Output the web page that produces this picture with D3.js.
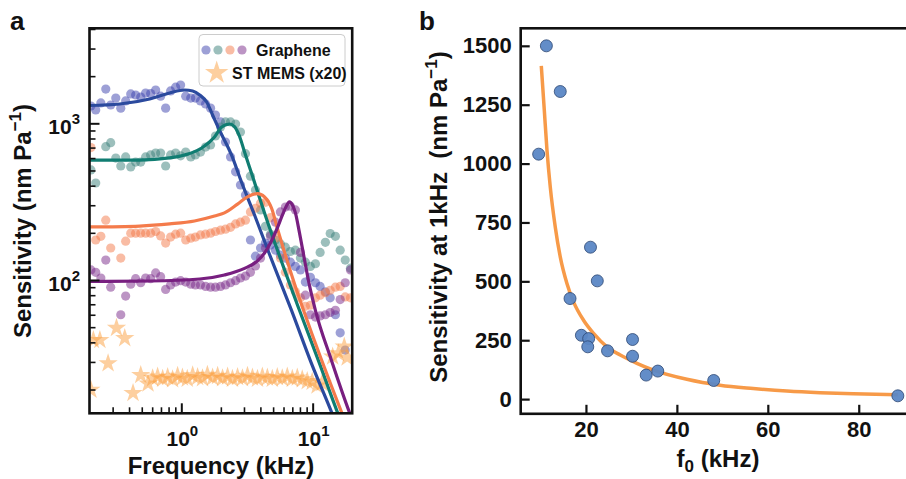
<!DOCTYPE html>
<html>
<head>
<meta charset="utf-8">
<script src="https://cdn.jsdelivr.net/npm/d3@7"></script>
<style>
  body { margin: 0; background: #fff; }
  text { font-family: "Liberation Sans", Arial, sans-serif; font-weight: bold; }
</style>
</head>
<body>
<svg id="chart" width="906" height="479"></svg>
<script>
// ---- panel a data: frequency (kHz) and sensitivity (nm/Pa) ----
const freqs = [0.205, 0.223, 0.244, 0.266, 0.290, 0.317, 0.346, 0.377, 0.412, 0.449, 0.491, 0.535,
  0.584, 0.638, 0.696, 0.760, 0.829, 0.905, 0.988, 1.08, 1.18, 1.28, 1.40, 1.53, 1.67, 1.82, 1.99,
  2.17, 2.37, 2.59, 2.82, 3.08, 3.36, 3.67, 4.01, 4.37, 4.77, 5.21, 5.68, 6.20, 6.77, 7.39, 8.07,
  8.80, 9.61, 10.5, 11.4, 12.5, 13.6, 14.9, 16.2, 17.7, 19.4]

const blueS = [1290, 1216, 1350, 1655, 1309, 1450, 1250, 1390, 1540, 1516, 1470, 1560, 1550, 1631,
  1490, 1250, 1610, 1700, 1756, 1490, 1450, 1450, 1390, 1330, 1250, 1130, 1020, 760, 610, 490, 404,
  349, 180, 142, 160, 172, 167, 155, 144, 138, 130, 122, 116, 97, 104, 96, 91, 84, 77, 60, 46, 35.7, null]
const tealS = [504, 416, null, 709, 752, 600, 534, 610, 527, 566, 566, 610, 628, 646, 646, 534, 628,
  646, 620, 655, 610, 628, 655, 705, 727, 830, 947, 1020, 1020, 990, 880, 640, 460, 375, 280, 220,
  196, 180, 170, 162, 152, 155, 138, 130, 122, 127, 150, 174, 198, 190, 155, 134, 119]
const orangeS = [700, 180, 190, 241, 160, null, 138, 177, 199, 199, 199, 199, 199, 204, 191, 172, 188,
  196, 199, 180, 185, 188, 194, 196, 199, 204, 208, 211, 217, 228, 234, 241, 272, 287, 309, 313,
  250, 185, 138, 112, 93, 84, 77, 68, 69, 77, 80, 83, 86, 90, 91, 78, 77]
const purpleS = [116, 112, 103, 134, 90, null, 60, 79, 94, 102, 96, 103, 102, 111, 105, 87, 93, 97,
  99, 97, 94, 93, 93, 91, 90, 90, 91, 93, 96, 99, 103, 106, 112, 123, 138, 160, 191, 234, 272, 292,
  296, 280, 150, 80, 60, 58, 59, 60, 62, 64, 75, 96, 116]

const memsF = [0.205, 0.214, 0.240, 0.277, 0.321, 0.371, 0.429, 0.491, 0.558, 0.605, 0.660, 0.721,
  0.787, 0.858, 0.937, 1.02, 1.11, 1.22, 1.33, 1.45, 1.58, 1.73, 1.89, 2.06, 2.25, 2.45, 2.68, 2.92,
  3.19, 3.48, 3.80, 4.14, 4.52, 4.93, 5.38, 5.87, 6.41, 7.00, 7.64, 8.33, 9.09, 9.92, 10.8, 11.8,
  14.2, 15.7, 17.4, 18.3]
const memsS = [19.9, 41.4, 41.4, 29.4, 49.4, 42.5, 19.0, 24.7, 21.8, 23.6, 24.2, 23.4, 24.0, 23.2,
  24.4, 23.8, 23.4, 24.6, 24.0, 23.6, 24.8, 23.8, 24.4, 23.6, 24.2, 23.4, 24.0, 23.6, 24.4, 23.8,
  23.4, 24.2, 23.8, 23.4, 24.0, 23.6, 24.2, 23.4, 23.8, 23.2, 22.6, 22.4, 21.2, 22.0, 32.4, 34.0,
  37.5, 32.0]

// fitted response curves
const blueFitF = [0.2, 0.34, 0.574, 0.815, 1.06, 1.22, 1.38, 1.56, 1.73, 1.95, 2.41, 2.87, 3.61, 4.69, 6.89, 9.77, 13.9, 16]
const blueFitS = [1299, 1328, 1429, 1561, 1631, 1607, 1516, 1367, 1130, 906, 628, 422, 260, 146, 64.3, 29.5, 14.4, 10.7]
const tealFitF = [0.2, 0.482, 0.815, 1.06, 1.43, 1.79, 2.03, 2.33, 2.54, 2.77, 3.03, 3.42, 4.30, 6.04, 7.92, 11.25, 15.4, 17.7]
const tealFitS = [583, 583, 601, 628, 696, 818, 947, 990, 954, 830, 656, 482, 268, 119, 64.3, 29.5, 14.4, 10.7]
const orangeFitF = [0.2, 0.482, 0.815, 1.26, 1.79, 2.13, 2.68, 3.19, 3.80, 4.30, 4.86, 5.40, 6.04, 7.54, 8.51, 16.55, 19.04]
const orangeFitS = [218, 221, 228, 238, 256, 268, 305, 339, 356, 339, 288, 212, 155, 86.3, 64.3, 14.4, 10.7]
const purpleFitF = [0.2, 0.574, 1.38, 2.13, 3.03, 3.80, 4.30, 4.77, 5.30, 5.89, 6.31, 6.65, 7.01, 7.39, 7.92, 8.65, 9.44, 10.48, 13.87, 19.0, 21.5]
const purpleFitS = [97.8, 98.5, 101.5, 107.7, 118.6, 132.3, 148.7, 172.3, 208.5, 260, 297, 315, 301, 268, 202, 136, 93, 64.3, 30.9, 14.4, 11]

// ---- panel b data ----
const f0 = [9.6, 11.3, 14.35, 16.5, 19.0, 20.6, 20.4, 21.0, 22.5, 24.75, 30.25, 30.25, 33.25, 35.8, 48.1, 88.6]
const sens1k = [1040, 1500, 1306, 427, 271, 257, 222, 645, 502, 205, 253, 182, 102, 119, 79, 14]
const fitF0 = [10.18, 10.84, 11.43, 12.15, 13.25, 14.35, 15.82, 17.27, 19.47, 21.67, 24.62, 27.54, 31.21, 34.86, 42.2, 49.5, 56.8, 64.2, 71.5, 78.8, 88.6]
const fitSens = [1415, 1227, 1057, 901, 731, 604, 491, 413, 335, 279, 222, 187, 152, 123, 84, 59, 45, 34, 27, 22.5, 18]

const xMajorA = [1, 10]
const xMinorA = [0.3, 0.4, 0.5, 0.6, 0.7, 0.8, 0.9, 2, 3, 4, 5, 6, 7, 8, 9]
const yMajorA = [100, 1000]
const yMinorA = [20, 30, 40, 50, 60, 70, 80, 90, 200, 300, 400, 500, 600, 700, 800, 900, 2000, 3000, 4000]
const yTicksB = [0, 250, 500, 750, 1000, 1250, 1500]
const xTicksB = [20, 40, 60, 80]

const series = [
  {name: 'blue', values: blueS, fitF: blueFitF, fitS: blueFitS, dot: '#3c42ad', line: '#2b4a9e'},
  {name: 'teal', values: tealS, fitF: tealFitF, fitS: tealFitS, dot: '#3a7f7a', line: '#107d72'},
  {name: 'orange', values: orangeS, fitF: orangeFitF, fitS: orangeFitS, dot: '#f4794a', line: '#f47b4b'},
  {name: 'purple', values: purpleS, fitF: purpleFitF, fitS: purpleFitS, dot: '#7a2a8a', line: '#781f80'}
]
const starColor = '#fca040'

const svg = d3.select('#chart')

// ================= panel a =================
const A = {left: 89.5, right: 352.2, top: 28.3, bottom: 413.3}
const xa = d3.scaleLog().domain([0.2, 20]).range([A.left, A.right])
const ya = d3.scaleLog().domain([14.1, 4040]).range([A.bottom, A.top])

svg.append('clipPath').attr('id', 'clipA')
  .append('rect')
  .attr('x', A.left).attr('y', A.top)
  .attr('width', A.right - A.left).attr('height', A.bottom - A.top)

const plotA = svg.append('g').attr('clip-path', 'url(#clipA)')

series.forEach(s => {
  const pts = freqs.map((f, i) => [f, s.values[i]]).filter(d => d[1] != null)
  plotA.append('g')
    .selectAll('circle')
    .data(pts)
    .join('circle')
    .attr('cx', d => xa(d[0]))
    .attr('cy', d => ya(d[1]))
    .attr('r', 4.6)
    .attr('fill', s.dot)
    .attr('fill-opacity', 0.5)
})

const star = d3.symbol().type(d3.symbolStar).size(115)
plotA.append('g')
  .selectAll('path')
  .data(memsF.map((f, i) => [f, memsS[i]]))
  .join('path')
  .attr('d', star)
  .attr('transform', d => `translate(${xa(d[0])},${ya(d[1])})`)
  .attr('fill', starColor)
  .attr('fill-opacity', 0.5)

const lineA = d3.line()
  .x(d => xa(d[0]))
  .y(d => ya(d[1]))
  .curve(d3.curveMonotoneX)

series.forEach(s => {
  plotA.append('path')
    .datum(s.fitF.map((f, i) => [f, s.fitS[i]]))
    .attr('d', lineA)
    .attr('fill', 'none')
    .attr('stroke', s.line)
    .attr('stroke-width', 3.2)
})

// ticks (inward)
function tickAxis(g, axis, width) {
  g.call(axis)
  g.select('.domain').remove()
  g.selectAll('.tick line').attr('stroke', '#111').attr('stroke-width', width)
  g.selectAll('.tick text').remove()
}

svg.append('g').attr('transform', `translate(0,${A.bottom})`)
  .call(g => tickAxis(g, d3.axisBottom(xa).tickValues(xMajorA).tickSize(-10), 2))
svg.append('g').attr('transform', `translate(0,${A.bottom})`)
  .call(g => tickAxis(g, d3.axisBottom(xa).tickValues(xMinorA).tickSize(-6), 1.6))
svg.append('g').attr('transform', `translate(${A.left},0)`)
  .call(g => tickAxis(g, d3.axisLeft(ya).tickValues(yMajorA).tickSize(-10), 2))
svg.append('g').attr('transform', `translate(${A.left},0)`)
  .call(g => tickAxis(g, d3.axisLeft(ya).tickValues(yMinorA).tickSize(-6), 1.6))

function powerLabel(x, y, exp, anchor) {
  const t = svg.append('text')
    .attr('x', x).attr('y', y)
    .attr('text-anchor', anchor)
    .attr('font-size', 21)
    .attr('fill', '#111')
  t.append('tspan').text('10')
  t.append('tspan').attr('dy', -10).attr('font-size', 15).text(exp)
}

xMajorA.forEach(v => powerLabel(xa(v) + 1, 446, Math.round(Math.log10(v)), 'middle'))
yMajorA.forEach(v => powerLabel(80, ya(v) + 11, Math.round(Math.log10(v)), 'end'))

svg.append('rect')
  .attr('x', A.left).attr('y', A.top)
  .attr('width', A.right - A.left).attr('height', A.bottom - A.top)
  .attr('fill', 'none').attr('stroke', '#111').attr('stroke-width', 2.6)

// legend
const leg = svg.append('g')
leg.append('rect')
  .attr('x', 199).attr('y', 34.5).attr('width', 146).attr('height', 51.5)
  .attr('rx', 4)
  .attr('fill', '#fff').attr('fill-opacity', 0.8)
  .attr('stroke', '#cccccc').attr('stroke-width', 1)
series.forEach((s, i) => {
  leg.append('circle')
    .attr('cx', 206 + i * 12).attr('cy', 50).attr('r', 4.6)
    .attr('fill', s.dot).attr('fill-opacity', 0.5)
})
leg.append('text').attr('x', 256).attr('y', 55.5).attr('font-size', 16).attr('fill', '#111').text('Graphene')
leg.append('path')
  .attr('d', d3.symbol().type(d3.symbolStar).size(170))
  .attr('transform', 'translate(216.7,72.7)')
  .attr('fill', starColor).attr('fill-opacity', 0.5)
leg.append('text').attr('x', 232).attr('y', 78.5).attr('font-size', 16).attr('fill', '#111').text('ST MEMS (x20)')

// labels
svg.append('text').attr('x', 10).attr('y', 30).attr('font-size', 26).attr('fill', '#111').text('a')

const yLabA = svg.append('text')
  .attr('transform', 'translate(31,221) rotate(-90)')
  .attr('text-anchor', 'middle')
  .attr('font-size', 24)
  .attr('fill', '#111')
yLabA.append('tspan').text('Sensitivity (nm Pa')
yLabA.append('tspan').attr('dy', -10).attr('font-size', 17).text('\u22121')
yLabA.append('tspan').attr('dy', 10).text(')')

svg.append('text')
  .attr('x', 221).attr('y', 474)
  .attr('text-anchor', 'middle')
  .attr('font-size', 24)
  .attr('fill', '#111')
  .text('Frequency (kHz)')

// ================= panel b =================
const B = {left: 520.7, right: 915.8, top: 28.3, bottom: 413.8}
const xb = d3.scaleLinear().domain([5.65, 92.55]).range([B.left, B.right])
const yb = d3.scaleLinear().domain([-62.4, 1574.4]).range([B.bottom, B.top])

const lineB = d3.line()
  .x(d => xb(d[0]))
  .y(d => yb(d[1]))
  .curve(d3.curveMonotoneX)

svg.append('path')
  .datum(fitF0.map((f, i) => [f, fitSens[i]]))
  .attr('d', lineB)
  .attr('fill', 'none')
  .attr('stroke', '#f79a48')
  .attr('stroke-width', 3.5)

svg.append('g')
  .selectAll('circle')
  .data(f0.map((f, i) => [f, sens1k[i]]))
  .join('circle')
  .attr('cx', d => xb(d[0]))
  .attr('cy', d => yb(d[1]))
  .attr('r', 6)
  .attr('fill', '#5b87c5')
  .attr('fill-opacity', 0.95)
  .attr('stroke', '#2c4672')
  .attr('stroke-width', 0.8)

function styleAxisB(g) {
  g.select('.domain').remove()
  g.selectAll('.tick line').attr('stroke', '#111').attr('stroke-width', 2.2)
  g.selectAll('.tick text')
    .attr('font-size', 22)
    .attr('font-family', '"Liberation Sans", Arial, sans-serif')
    .attr('font-weight', 'bold')
    .attr('fill', '#111')
}

svg.append('g').attr('transform', `translate(${B.left},0)`)
  .call(d3.axisLeft(yb).tickValues(yTicksB).tickFormat(d3.format('d')).tickSize(-9).tickPadding(9))
  .call(styleAxisB)
svg.append('g').attr('transform', `translate(0,${B.bottom})`)
  .call(d3.axisBottom(xb).tickValues(xTicksB).tickFormat(d3.format('d')).tickSize(-9).tickPadding(8))
  .call(styleAxisB)

svg.append('rect')
  .attr('x', B.left).attr('y', B.top)
  .attr('width', B.right - B.left).attr('height', B.bottom - B.top)
  .attr('fill', 'none').attr('stroke', '#111').attr('stroke-width', 2.6)

svg.append('text').attr('x', 419).attr('y', 30).attr('font-size', 26).attr('fill', '#111').text('b')

const yLabB = svg.append('text')
  .attr('transform', 'translate(447,217) rotate(-90)')
  .attr('text-anchor', 'middle')
  .attr('font-size', 24)
  .attr('fill', '#111')
  .style('white-space', 'pre')
yLabB.append('tspan').text('Sensitivity at 1kHz  (nm Pa')
yLabB.append('tspan').attr('dy', -10).attr('font-size', 17).text('\u22121')
yLabB.append('tspan').attr('dy', 10).text(')')

const xLabB = svg.append('text')
  .attr('x', 718).attr('y', 467)
  .attr('text-anchor', 'middle')
  .attr('font-size', 24)
  .attr('fill', '#111')
xLabB.append('tspan').text('f')
xLabB.append('tspan').attr('dy', 5).attr('font-size', 17).text('0')
xLabB.append('tspan').attr('dy', -5).text(' (kHz)')
</script>
</body>
</html>
